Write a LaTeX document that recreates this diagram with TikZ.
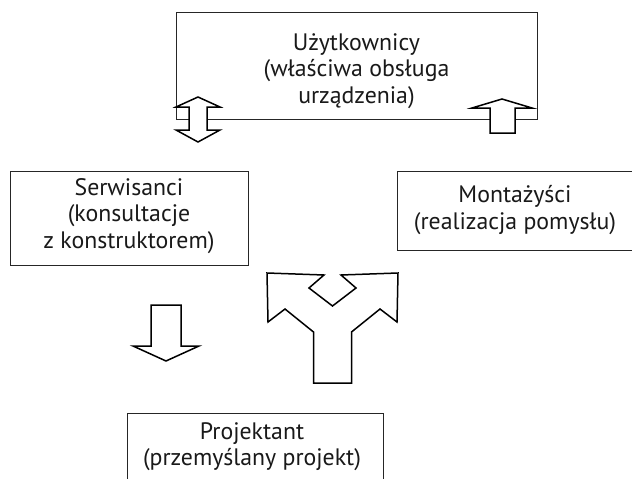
\documentclass[tikz,border=0pt]{standalone}
\usepackage{fontspec}
\setmainfont{PT Sans}
\begin{document}
\begin{tikzpicture}[x=1pt,y=-1pt,
  box/.style={draw=black!85, line width=0.9pt, fill=white, inner sep=0pt, rectangle},
  txt/.style={align=center, font=\fontsize{23.8}{26.5}\selectfont, inner sep=0pt, text=black!90},
  blk/.style={draw=black, line width=1.5pt, fill=white, line join=miter}]
\useasboundingbox (0,0) rectangle (632,479);
% boxes
\node[box, minimum width=361pt, minimum height=107pt] (uz) at (356.5,65.5) {};
\node[box, minimum width=238pt, minimum height=94pt] (se) at (129,218) {};
\node[box, minimum width=237pt, minimum height=79pt] (mo) at (515.5,210.5) {};
\node[box, minimum width=256pt, minimum height=87pt] (pr) at (255,456.5) {};
% texts
\node[txt] (uzt) at (356.5,71) {Użytkownicy\\(właściwa obsługa\\urządzenia)};
\node[txt] (set) at (129,216) {Serwisanci\\(konsultacje\\z konstruktorem)};
\node[txt] (mot) at (515,210) {Montażyści\\(realizacja pomysłu)};
\node[txt] (prt) at (252,446.5) {Projektant\\(przemyślany projekt)};
% block arrows
\draw[blk] (198,97) -- (220,107) -- (207,107) -- (207,130) -- (220,130) -- (198,142)
  -- (176,130) -- (189,130) -- (189,107) -- (176,107) -- cycle;
\draw[blk] (502,99) -- (532,108) -- (515,108) -- (515,133) -- (490,133) -- (490,108)
  -- (472,108) -- cycle;
\draw[blk] (151,305) -- (181,305) -- (181,346) -- (199,346) -- (166,361) -- (133,346)
  -- (151,346) -- cycle;
\draw[blk] (267,273) -- (324,275) -- (309,288) -- (332.5,306) -- (356,288) -- (341,275)
  -- (398,273) -- (397,322) -- (380,309) -- (351.5,332) -- (351.5,383) -- (313.5,383)
  -- (313.5,332) -- (285,309) -- (268,322) -- cycle;
\end{tikzpicture}
\end{document}
